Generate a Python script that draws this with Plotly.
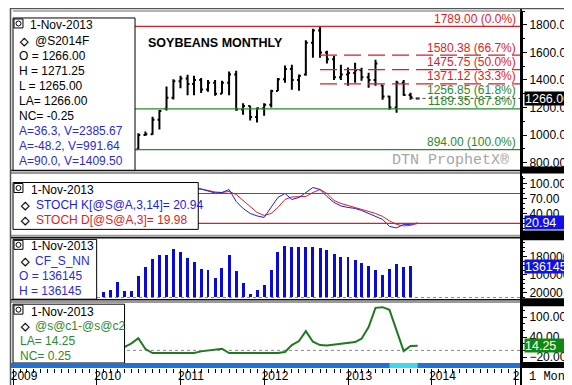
import pandas as pd
import plotly.graph_objects as go

W, H = 572, 385
ML, MR, MT, MB = 3, 59, 3, 24
PW, PH = W - ML - MR, H - MT - MB


def fx(p):
    return (p - ML) / PW


def fy(p):
    return (H - MB - p) / PH


X_START, X_END = "2008-12-31", "2015-01-26"

# ---------------- data ----------------
price_months = ["2010-07", "2010-08", "2010-09", "2010-10", "2010-11", "2010-12",
                "2011-01", "2011-02", "2011-03", "2011-04", "2011-05", "2011-06",
                "2011-07", "2011-08", "2011-09", "2011-10", "2011-11", "2011-12",
                "2012-01", "2012-02", "2012-03", "2012-04", "2012-05", "2012-06",
                "2012-07", "2012-08", "2012-09", "2012-10", "2012-11", "2012-12",
                "2013-01", "2013-02", "2013-03", "2013-04", "2013-05", "2013-06",
                "2013-07", "2013-08", "2013-09", "2013-10", "2013-11"]
price_open = [896, 1000, 1005, 1110, 1190, 1270,
              1390, 1410, 1370, 1400, 1330, 1380, 1300, 1380, 1440, 1185, 1210, 1130,
              1195, 1220, 1320, 1405, 1480, 1400, 1440, 1670, 1760, 1600, 1550, 1420,
              1440, 1450, 1470, 1420, 1400, 1360, 1280, 1200, 1380, 1290, 1266]
price_high = [1012, 1025, 1132, 1182, 1352, 1405,
              1430, 1437, 1430, 1415, 1400, 1400, 1394, 1462, 1466, 1230, 1213, 1199,
              1230, 1329, 1415, 1505, 1510, 1440, 1688, 1772, 1789, 1612, 1575, 1510,
              1490, 1525, 1488, 1452, 1546, 1365, 1285, 1394, 1400, 1307, 1271.25]
price_low = [894, 995, 1001, 1040, 1178, 1258,
             1340, 1288, 1288, 1305, 1315, 1285, 1300, 1288, 1177, 1148, 1105, 1090,
             1140, 1199, 1320, 1380, 1329, 1322, 1430, 1561, 1561, 1520, 1400, 1400,
             1358, 1380, 1394, 1343, 1358, 1256, 1184, 1162.5, 1285, 1256, 1265]
price_close = [1000, 1005, 1110, 1175, 1270, 1390,
               1410, 1370, 1400, 1330, 1380, 1300, 1380, 1440, 1185, 1210, 1130, 1195,
               1220, 1320, 1405, 1480, 1400, 1430, 1670, 1760, 1600, 1550, 1420, 1440,
               1450, 1470, 1420, 1400, 1520, 1280, 1200, 1380, 1290, 1275, 1266]

fib_values = [1789.00, 1580.38, 1475.75, 1371.12, 1256.85, 1189.35, 894.00]
fib_pcts = ["0.0%", "66.7%", "50.0%", "33.3%", "61.8%", "67.8%", "100.0%"]
last_price = 1266.00

stoch_months = ["2011-01", "2011-02", "2011-03", "2011-04", "2011-05", "2011-06",
                "2011-07", "2011-08", "2011-09", "2011-10", "2011-11", "2011-12",
                "2012-01", "2012-02", "2012-03", "2012-04", "2012-05", "2012-06",
                "2012-07", "2012-08", "2012-09", "2012-10", "2012-11", "2012-12",
                "2013-01", "2013-02", "2013-03", "2013-04", "2013-05", "2013-06",
                "2013-07", "2013-08", "2013-09", "2013-10", "2013-11"]
stoch_k = [92, 92, 90, 89, 85, 81, 82, 88, 64, 50, 40, 35,
           32, 52, 72, 80, 68, 72, 82, 92, 88, 74, 62, 55,
           52, 50, 46, 40, 33, 28, 14, 11, 18, 18, 20.94]
stoch_d = [90, 91, 90, 89, 86, 83, 82, 84, 78, 66, 52, 42,
           36, 40, 52, 68, 73, 73, 74, 82, 88, 80, 66, 60,
           56, 52, 49, 45, 40, 34, 25, 18, 15, 16, 19.98]
stoch_levels = [80, 20]

oi_months = ["2010-02", "2010-03", "2010-04", "2010-05", "2010-06", "2010-07",
             "2010-08", "2010-09", "2010-10", "2010-11", "2010-12",
             "2011-01", "2011-02", "2011-03", "2011-04", "2011-05", "2011-06",
             "2011-07", "2011-08", "2011-09", "2011-10", "2011-11", "2011-12",
             "2012-01", "2012-02", "2012-03", "2012-04", "2012-05", "2012-06",
             "2012-07", "2012-08", "2012-09", "2012-10", "2012-11", "2012-12",
             "2013-01", "2013-02", "2013-03", "2013-04", "2013-05", "2013-06",
             "2013-07", "2013-08", "2013-09", "2013-10"]
oi_values = [21000, 33000, 68000, 29000, 29000, 94000, 133000, 166000, 184000, 184000, 209000,
             199000, 173000, 154000, 124000, 120000, 82000, 128000, 183000, 115000, 62000, 14000, 33000,
             53000, 120000, 197000, 226000, 219000, 219000, 219000, 222000, 215000, 205000, 190000, 175000,
             178000, 165000, 150000, 135000, 120000, 95000, 122000, 145000, 134000, 136145]

spread_months = ["2010-05", "2010-06", "2010-07", "2010-08", "2010-09", "2010-10", "2010-11", "2010-12",
                 "2011-01", "2011-02", "2011-03", "2011-04", "2011-05", "2011-06",
                 "2011-07", "2011-08", "2011-09", "2011-10", "2011-11", "2011-12",
                 "2012-01", "2012-02", "2012-03", "2012-04", "2012-05", "2012-06",
                 "2012-07", "2012-08", "2012-09", "2012-10", "2012-11", "2012-12",
                 "2013-01", "2013-02", "2013-03", "2013-04", "2013-05", "2013-06",
                 "2013-07", "2013-08", "2013-09", "2013-10", "2013-11"]
spread_values = [10, 21, 37, 4, -8, -8, -8, -8,
                 -8, -8, -8, -3, -1, 3, 5, -8, -8, -8, -8, -8,
                 -8, -8, -8, -5, 16, 28, 58, 26, 16, 15, 18, 20,
                 22, 25, 35, 70, 128, 130, 122, 60, -2, 13, 14.25]

year_ticks = ["2009-01-01", "2010-01-01", "2011-01-01", "2012-01-01",
              "2013-01-01", "2014-01-01", "2015-01-01"]
year_labels = ["2009", "2010", "2011", "2012", "2013", "2014", "2"]

# ---------------- styles ----------------
FONT = "Arial, Liberation Sans, sans-serif"
MONO = "Courier New, Liberation Mono, monospace"
BLUE_T = "#2b2bd0"
BLUE_L = "#1c1ce6"
RED = "#e01b24"
GREEN = "#2a8a2a"
GREEN_L = "#1f7a1f"

fig = go.Figure()

fig.add_trace(go.Ohlc(
    x=price_months, open=price_open, high=price_high, low=price_low, close=price_close,
    increasing=dict(line=dict(color="black", width=2)),
    decreasing=dict(line=dict(color="black", width=2)),
    tickwidth=0.3, xaxis="x", yaxis="y", showlegend=False, hoverinfo="skip"))

fig.add_trace(go.Scatter(x=stoch_months, y=stoch_d, mode="lines",
                         line=dict(color=RED, width=1), yaxis="y2", showlegend=False))
fig.add_trace(go.Scatter(x=stoch_months, y=stoch_k, mode="lines",
                         line=dict(color=BLUE_L, width=1), yaxis="y2", showlegend=False))

ms_per_px = (pd.Timestamp(X_END) - pd.Timestamp(X_START)).total_seconds() * 1000 / PW
fig.add_trace(go.Bar(x=oi_months, y=oi_values, width=3 * ms_per_px,
                     marker=dict(color="#0a0ad8", line=dict(width=0)),
                     yaxis="y3", showlegend=False))

fig.add_trace(go.Scatter(x=spread_months, y=spread_values, mode="lines",
                         line=dict(color=GREEN_L, width=2), yaxis="y4", showlegend=False))

# ---------------- shapes ----------------
shapes = []


def line_p(x0, y0, x1, y1, color, width=1, dash=None):
    d = dict(type="line", xref="paper", yref="paper", x0=fx(x0), y0=fy(y0), x1=fx(x1), y1=fy(y1),
             line=dict(color=color, width=width), layer="above")
    if dash:
        d["line"]["dash"] = dash
    shapes.append(d)


def rect_p(x0, y0, x1, y1, fill, lcolor=None, lw=0):
    shapes.append(dict(type="rect", xref="paper", yref="paper", x0=fx(x0), y0=fy(y0), x1=fx(x1), y1=fy(y1),
                       fillcolor=fill, line=dict(color=lcolor or fill, width=lw), layer="above"))


# Fibonacci lines
peak_month = price_months[price_high.index(max(price_high))]
for v, p in zip(fib_values, fib_pcts):
    if p == "0.0%":
        shapes.append(dict(type="line", xref="paper", yref="y", x0=0, x1=1, y0=v, y1=v,
                           line=dict(color=RED, width=1.2), layer="above"))
    elif p in ("66.7%", "50.0%", "33.3%"):
        shapes.append(dict(type="line", xref="x", yref="y", x0=peak_month, x1=X_END, y0=v, y1=v,
                           line=dict(color=RED, width=1.2, dash="17px,7px"), layer="above"))
    elif p in ("67.8%", "100.0%"):
        shapes.append(dict(type="line", xref="paper", yref="y", x0=0, x1=1, y0=v, y1=v,
                           line=dict(color=GREEN, width=1.2), layer="above"))
# last price dashed
shapes.append(dict(type="line", xref="x", yref="y", x0=price_months[-2], x1=X_END, y0=last_price, y1=last_price,
                   line=dict(color="#444444", width=1, dash="3px,3px"), layer="above"))
# stochastic levels
for v in stoch_levels:
    shapes.append(dict(type="line", xref="paper", yref="y2", x0=0, x1=1, y0=v, y1=v,
                       line=dict(color=RED, width=1.2), layer="above"))
# zero lines
shapes.append(dict(type="line", xref="paper", yref="y3", x0=0, x1=1, y0=0, y1=0,
                   line=dict(color="#888888", width=1, dash="3px,3px"), layer="below"))
shapes.append(dict(type="line", xref="paper", yref="y4", x0=0, x1=1, y0=0, y1=0,
                   line=dict(color="#888888", width=1, dash="3px,3px"), layer="below"))

# legend boxes
rect_p(3, 10, 125.5, 163, "white", "black", 1)
rect_p(3, 175, 189, 222, "white", "black", 1)
rect_p(3, 232, 87, 292, "white", "black", 1)
rect_p(3, 297, 115, 356, "white", "black", 1)
# little icons
for top in (10, 175, 232, 297):
    rect_p(4, top + 1, 13, top + 10, "white", "black", 1)
    shapes.append(dict(type="circle", xref="paper", yref="paper",
                       x0=fx(6), x1=fx(11), y0=fy(top + 3), y1=fy(top + 8),
                       line=dict(color="black", width=1), layer="above"))

# panel separators
for yb, yg in ((163, 165.5), (230.5, 228.5), (292.5, 294.8)):
    line_p(0, yg, 513, yg, "#9a9a9a", 2)
    line_p(0, yb, 513, yb, "#111111", 1.5)
rect_p(513, 159, 572, 166, "black")
rect_p(513, 223, 572, 233, "black")
rect_p(513, 291, 572, 299, "black")
rect_p(513, 355, 572, 361, "black")

# time band
rect_p(0, 356, 513, 361, "#1f72d6")
shapes.append(dict(type="rect", xref="x", yref="paper", x0=price_months[-5], x1=price_months[-1],
                   y0=0, y1=fy(356), fillcolor="#3fd9ee", line=dict(width=0), layer="above"))

# right column vertical line and outer frame
line_p(513, 0, 513, 385, "black", 2)
line_p(0, 383.5, 513, 383.5, "#222222", 1)
shapes.append(dict(type="rect", xref="paper", yref="paper", x0=fx(0.5), y0=fy(384.5), x1=fx(571.5), y1=fy(0.5),
                   line=dict(color="#555555", width=1.5), fillcolor="rgba(0,0,0,0)", layer="above"))
line_p(3, 3, 513, 3, "#666666", 1)

# ---------------- annotations ----------------
ann = []


def txt(x, y, s, color="black", size=12, family=FONT, xanchor="left", bold=False):
    ann.append(dict(xref="paper", yref="paper", x=fx(x), y=fy(y), text=("<b>%s</b>" % s) if bold else s,
                    showarrow=False, xanchor=xanchor, yanchor="middle",
                    font=dict(family=family, size=size, color=color)))


# panel 1 legend
txt(18, 17, "1-Nov-2013")
txt(7, 33, "◇", size=11, bold=True)
txt(23, 33, "@S2014F")
txt(7, 48, "O = %.2f" % price_open[-1])
txt(7, 63, "H = %.2f" % price_high[-1])
txt(7, 78, "L = %.2f" % price_low[-1])
txt(7, 93, "LA= %.2f" % price_close[-1])
txt(7, 108, "NC= -0.25")
txt(7, 123, "A=36.3, V=2385.67", BLUE_T)
txt(7, 138, "A=-48.2, V=991.64", BLUE_T)
txt(7, 153, "A=90.0, V=1409.50", BLUE_T)

# panel 2 legend
txt(19, 183, "1-Nov-2013")
txt(8, 198, "◇", size=11, bold=True)
txt(24, 198, "STOCH K[@S@A,3,14]= %.2f" % stoch_k[-1], BLUE_L)
txt(8, 213, "◇", size=11, bold=True)
txt(24, 213, "STOCH D[@S@A,3]= %.2f" % stoch_d[-1], RED)

# panel 3 legend
txt(19, 239, "1-Nov-2013")
txt(8, 254, "◇", size=11, bold=True)
txt(23, 254, "CF_S_NN", BLUE_T)
txt(7, 269, "O = %d" % oi_values[-1], BLUE_T)
txt(7, 284, "H = %d" % oi_values[-1], BLUE_T)

# panel 4 legend
txt(19, 305, "1-Nov-2013")
txt(8, 319, "◇", size=11, bold=True)
txt(23, 319, "@s@c1-@s@c2", GREEN)
txt(8, 334, "LA= %.2f" % spread_values[-1], GREEN)
txt(8, 349, "NC= 0.25", GREEN)

# title and watermark
txt(137, 35, "SOYBEANS MONTHLY", size=12.5, bold=True)
txt(503, 153, "DTN ProphetX®", "#a6a6a6", size=15, family=MONO, xanchor="right")

# fib labels
for v, p in zip(fib_values, fib_pcts):
    col = RED if p in ("0.0%", "66.7%", "50.0%", "33.3%") else GREEN
    shift = 10 if p == "61.8%" else 7.5
    ann.append(dict(xref="paper", yref="y", x=fx(510), y=v, text="%.2f (%s)" % (v, p),
                    showarrow=False, xanchor="right", yanchor="middle", yshift=shift,
                    font=dict(family=FONT, size=12, color=col)))

# value boxes on the right axis
for val, yr, bg, w in ((("%.2f" % last_price), "y", "black", 56),
                       (("%.2f" % stoch_k[-1]), "y2", "#1010e8", 48),
                       (("%d" % oi_values[-1]), "y3", "#1010e8", 49),
                       (("%.2f" % spread_values[-1]), "y4", "#118811", 50)):
    ann.append(dict(xref="paper", yref=yr, x=fx(516), y=float(val), text=val, showarrow=False,
                    xanchor="left", yanchor="middle", bgcolor=bg, width=w, height=13, align="left",
                    borderpad=0, font=dict(family=FONT, size=12.5, color="white")))

txt(519, 370, "1 Mon", size=12, family=MONO)

# ---------------- axes ----------------
ybase = dict(side="right", anchor="x", showgrid=False, zeroline=False, showline=True,
             linecolor="black", linewidth=2, ticks="outside", ticklen=4, tickcolor="black",
             tickfont=dict(family=FONT, size=12, color="black"), fixedrange=True)

fig.update_layout(
    width=W, height=H, margin=dict(l=ML, r=MR, t=MT, b=MB), autosize=False,
    paper_bgcolor="white", plot_bgcolor="white", showlegend=False, bargap=0,
    xaxis=dict(type="date", range=[X_START, X_END], anchor="free", position=0,
               rangeslider=dict(visible=False), showgrid=False, zeroline=False, showline=False,
               ticks="outside", ticklen=22, tickwidth=1, tickcolor="black",
               tickmode="array", tickvals=year_ticks, ticktext=year_labels,
               ticklabelposition="outside right", ticklabelstandoff=-3, ticklabelshift=-3,
               tickfont=dict(family=FONT, size=12, color="black"),
               minor=dict(ticks="outside", ticklen=4, dtick="M1", tick0="2009-01-01",
                          tickcolor="black", tickwidth=1)),
    yaxis=dict(ybase, domain=[fy(162), 1.0], range=[749, 1901],
               tickmode="array", tickvals=[800, 1000, 1200, 1400, 1600, 1800], tickformat=".2f",
               minor=dict(ticks="outside", ticklen=2, dtick=100, tickcolor="black")),
    yaxis2=dict(ybase, domain=[fy(228), fy(168)], range=[-4, 116],
                tickmode="array", tickvals=[40, 70, 100], tickformat=".2f",
                minor=dict(ticks="outside", ticklen=2, dtick=10, tickcolor="black")),
    yaxis3=dict(ybase, domain=[fy(291), fy(232)], range=[-3000, 255000],
                tickmode="array", tickvals=[20000, 100000, 180000], tickformat="d",
                minor=dict(ticks="outside", ticklen=2, dtick=20000, tickcolor="black")),
    yaxis4=dict(ybase, domain=[fy(355), fy(297)], range=[-35, 139],
                tickmode="array", tickvals=[-20, 40, 100], tickformat=".2f",
                minor=dict(ticks="outside", ticklen=2, dtick=20, tickcolor="black")),
    shapes=shapes, annotations=ann,
)

fig.write_html("out.html")
